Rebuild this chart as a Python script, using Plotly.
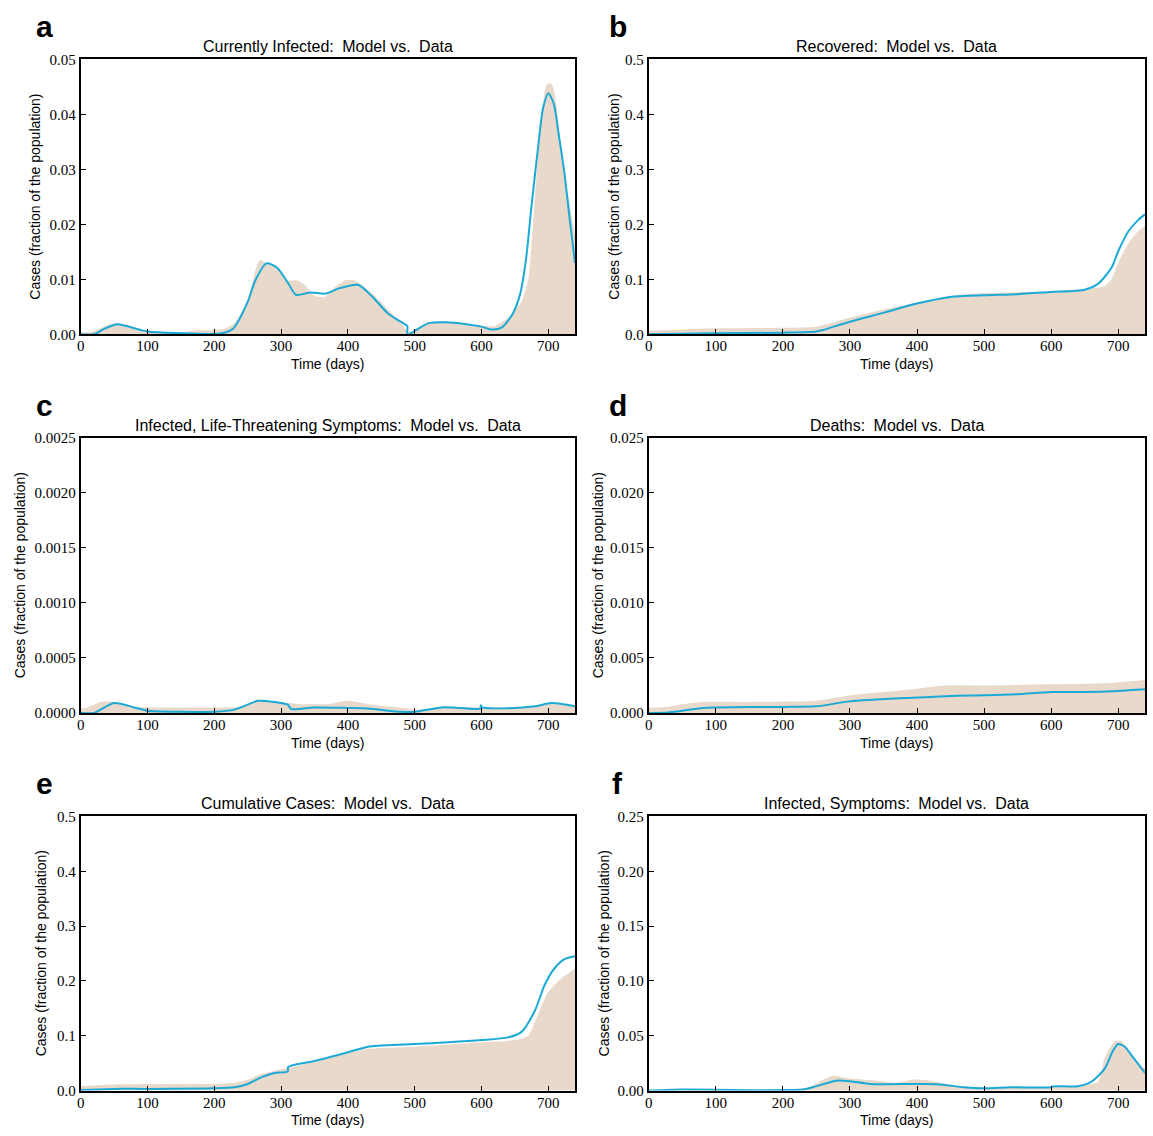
import plotly.graph_objects as go
from plotly.subplots import make_subplots

# ---------------- data ----------------
# a: Currently infected
a_data_t = [0, 20, 40, 55, 80, 100, 150, 170, 200, 215, 230, 250, 260, 268, 278, 290, 300, 310, 325, 335, 350, 365, 380, 395, 410, 420, 440, 460, 480, 490, 500, 520, 550, 580, 600, 620, 640, 660, 670, 680, 690, 698, 705, 712, 720, 730, 740]
a_data_v = [0.0003, 0.0006, 0.0017, 0.002, 0.0012, 0.0006, 0.0003, 0.0007, 0.0008, 0.001, 0.002, 0.006, 0.011, 0.0135, 0.013, 0.0125, 0.011, 0.0098, 0.0098, 0.009, 0.007, 0.0068, 0.0085, 0.0098, 0.0098, 0.009, 0.007, 0.0045, 0.002, 0.0005, 0.0008, 0.0022, 0.0023, 0.0018, 0.0015, 0.0015, 0.003, 0.006, 0.01, 0.025, 0.04, 0.0455, 0.0455, 0.042, 0.032, 0.025, 0.018]
a_model_t = [0, 20, 35, 55, 75, 100, 150, 200, 215, 228, 250, 261, 278, 294, 311, 322, 344, 366, 388, 415, 437, 460, 487, 489, 489.5, 520, 548, 575, 600, 614, 630, 647, 658, 667, 674, 685, 692, 700, 708, 716, 724, 732, 740]
a_model_v = [0.0, 0.0, 0.001, 0.00185, 0.0013, 0.0005, 0.0002, 0.0001, 0.0003, 0.001, 0.0059, 0.0097, 0.0129, 0.0121, 0.0092, 0.0072, 0.0076, 0.0074, 0.0084, 0.009, 0.0068, 0.0038, 0.0017, 0.0015, 0.0, 0.002, 0.0022, 0.0019, 0.0014, 0.0009, 0.0012, 0.0038, 0.0074, 0.014, 0.0223, 0.0343, 0.041, 0.0438, 0.042, 0.036, 0.0295, 0.021, 0.013]

# b: Recovered
b_data_t = [0, 50, 100, 200, 250, 300, 350, 400, 450, 500, 600, 650, 680, 690, 700, 715, 730, 740]
b_data_v = [0.007, 0.009, 0.011, 0.012, 0.014, 0.03, 0.045, 0.058, 0.07, 0.075, 0.078, 0.082, 0.088, 0.1, 0.13, 0.165, 0.188, 0.197]
b_model_t = [0, 100, 200, 250, 260, 300, 350, 400, 450, 500, 550, 600, 650, 670, 690, 700, 715, 730, 740]
b_model_v = [0.0, 0.002, 0.003, 0.005, 0.008, 0.023, 0.039, 0.056, 0.068, 0.071, 0.073, 0.077, 0.081, 0.092, 0.121, 0.151, 0.187, 0.208, 0.218]

# c: Infected, life-threatening symptoms
c_data_t = [0, 10, 30, 50, 70, 100, 200, 230, 250, 265, 290, 310, 330, 370, 400, 430, 460, 490, 500, 540, 600, 650, 700, 740]
c_data_v = [0.00004, 0.00005, 0.0001, 0.0001, 0.00006, 0.00005, 0.00005, 0.00005, 0.00008, 0.00011, 0.0001, 0.00009, 0.00008, 0.00008, 0.00011, 0.00008, 0.00006, 0.00004, 0.00003, 0.00005, 0.00005, 0.00005, 0.00008, 0.00007]
c_model_t = [0, 20, 50, 80, 100, 150, 200, 230, 250, 265, 290, 310, 315, 350, 400, 430, 480, 500, 540, 570, 598, 599, 601, 650, 680, 705, 740]
c_model_v = [0.0, 0.0, 0.00009, 0.00005, 0.00002, 0.00001, 0.00001, 0.00003, 0.000075, 0.00011, 0.0001, 0.000075, 0.000036, 0.00005, 0.000045, 0.00004, 0.00001, 0.00001, 0.00005, 0.000045, 0.00004, 0.00007, 0.00005, 0.000045, 0.00006, 0.00009, 0.00006]

# d: Deaths
d_data_t = [0, 20, 50, 80, 150, 250, 300, 350, 400, 440, 500, 600, 680, 740]
d_data_v = [0.0005, 0.0005, 0.0008, 0.001, 0.001, 0.0011, 0.0016, 0.0019, 0.0022, 0.0025, 0.0025, 0.0026, 0.0027, 0.003]
d_model_t = [0, 30, 80, 100, 200, 250, 300, 400, 450, 500, 550, 600, 650, 700, 740]
d_model_v = [0.0, 0.00005, 0.00045, 0.0005, 0.00055, 0.0006, 0.00105, 0.0014, 0.00155, 0.0016, 0.0017, 0.0019, 0.0019, 0.002, 0.00215]

# e: Cumulative cases
e_data_t = [0, 50, 100, 200, 230, 250, 270, 300, 310, 350, 400, 430, 500, 600, 650, 670, 685, 700, 720, 740]
e_data_v = [0.008, 0.011, 0.012, 0.012, 0.014, 0.02, 0.03, 0.039, 0.041, 0.052, 0.068, 0.076, 0.08, 0.088, 0.092, 0.1, 0.14, 0.18, 0.205, 0.222]
e_model_t = [0, 50, 100, 200, 230, 250, 270, 290, 310, 310.5, 350, 400, 430, 450, 500, 550, 600, 640, 660, 680, 695, 710, 725, 740]
e_model_v = [0.001, 0.003, 0.003, 0.004, 0.006, 0.012, 0.024, 0.032, 0.035, 0.043, 0.054, 0.07, 0.08, 0.082, 0.085, 0.088, 0.092, 0.097, 0.107, 0.146, 0.194, 0.224, 0.24, 0.245]

# f: Infected, symptoms
f_data_t = [0, 50, 100, 200, 240, 260, 275, 300, 330, 370, 395, 420, 450, 490, 550, 600, 650, 670, 680, 695, 705, 715, 730, 740]
f_data_v = [0.0, 0.001, 0.0008, 0.0008, 0.003, 0.01, 0.0135, 0.011, 0.0095, 0.007, 0.01, 0.009, 0.005, 0.002, 0.003, 0.003, 0.005, 0.008, 0.03, 0.045, 0.045, 0.036, 0.025, 0.02]
f_model_t = [0, 50, 100, 150, 200, 230, 250, 280, 300, 330, 400, 430, 470, 500, 540, 600, 602, 640, 660, 680, 692, 700, 710, 720, 740]
f_model_v = [0.0, 0.001, 0.0008, 0.0003, 0.0004, 0.001, 0.004, 0.009, 0.0085, 0.006, 0.006, 0.0058, 0.003, 0.002, 0.003, 0.003, 0.0037, 0.004, 0.008, 0.02, 0.036, 0.0424, 0.04, 0.032, 0.016]

SP = "\u2005"
titles = ["Currently Infected:" + SP + " Model vs." + SP + " Data",
          "Recovered:" + SP + " Model vs." + SP + " Data",
          "Infected, Life-Threatening Symptoms:" + SP + " Model vs." + SP + " Data",
          "Deaths:" + SP + " Model vs." + SP + " Data",
          "Cumulative Cases:" + SP + " Model vs." + SP + " Data",
          "Infected, Symptoms:" + SP + " Model vs." + SP + " Data"]
letters = ["a", "b", "c", "d", "e", "f"]
y_max = [0.05, 0.5, 0.0025, 0.025, 0.5, 0.25]
y_dtick = [0.01, 0.1, 0.0005, 0.005, 0.1, 0.05]
y_fmt = [".2f", ".1f", ".4f", ".3f", ".1f", ".2f"]
x_ticks = [0, 100, 200, 300, 400, 500, 600, 700]

panels = [(a_data_t, a_data_v, a_model_t, a_model_v),
          (b_data_t, b_data_v, b_model_t, b_model_v),
          (c_data_t, c_data_v, c_model_t, c_model_v),
          (d_data_t, d_data_v, d_model_t, d_model_v),
          (e_data_t, e_data_v, e_model_t, e_model_v),
          (f_data_t, f_data_v, f_model_t, f_model_v)]

W, H = 1153, 1136
col_x = [(77, 573), (647, 1145)]
row_y = [(52, 331), (436, 715), (820, 1098)]

FILL = "#E8D9CB"
LINE = "#1BA9D6"
SANS = "Liberation Sans, Arial, sans-serif"
SERIF = "Liberation Serif, 'Times New Roman', serif"

fig = make_subplots(rows=3, cols=2)
annotations = []
ylabel_x = [31, 612, 16, 596, 38, 603]

for i, (dt, dv, mt, mv) in enumerate(panels):
    r, c = i // 2 + 1, i % 2 + 1
    fig.add_trace(go.Scatter(x=dt, y=dv, mode="lines", line=dict(width=0, shape="spline", smoothing=0.6),
                             fill="tozeroy", fillcolor=FILL, hoverinfo="skip", showlegend=False), row=r, col=c)
    fig.add_trace(go.Scatter(x=mt, y=mv, mode="lines", line=dict(width=2, color=LINE, shape="spline", smoothing=0.7),
                             showlegend=False), row=r, col=c)
    x0, x1 = col_x[c - 1]
    yt, yb = row_y[r - 1]
    idx = "" if i == 0 else str(i + 1)
    fig.layout["xaxis" + idx].update(domain=[x0 / W, x1 / W], range=[0, 740], tickvals=x_ticks,
                                     ticks="inside", ticklen=5, tickcolor="black", showline=True,
                                     linecolor="black", linewidth=2, mirror=True, showgrid=False,
                                     zeroline=False, ticklabelstandoff=-3,
                                     tickfont=dict(family=SERIF, size=15, color="black"))
    fig.layout["yaxis" + idx].update(domain=[1 - yb / H, 1 - yt / H], range=[0, y_max[i]], dtick=y_dtick[i],
                                     tickformat=y_fmt[i], ticks="inside", ticklen=5, tickcolor="black",
                                     showline=True, linecolor="black", linewidth=2, mirror=True,
                                     showgrid=False, zeroline=False,
                                     tickfont=dict(family=SERIF, size=15, color="black"))
    xc = (x0 + x1) / 2
    annotations.append(dict(text=titles[i], x=xc / W, y=1 - (yt - 13) / H, xref="paper", yref="paper",
                            showarrow=False, xanchor="center", yanchor="middle",
                            font=dict(family=SANS, size=16, color="black")))
    annotations.append(dict(text="Time (days)", x=xc / W, y=1 - (yb + 30) / H, xref="paper", yref="paper",
                            showarrow=False, xanchor="center", yanchor="middle",
                            font=dict(family=SANS, size=14, color="black")))
    annotations.append(dict(text="Cases (fraction of the population)", x=ylabel_x[i] / W,
                            y=1 - (yt + yb) / 2 / H, xref="paper", yref="paper", textangle=-90,
                            showarrow=False, xanchor="center", yanchor="middle",
                            font=dict(family=SANS, size=14, color="black")))
    lx = 41 if c == 1 else 616
    annotations.append(dict(text="<b>" + letters[i] + "</b>", x=lx / W, y=1 - (yt - 33) / H, xref="paper",
                            yref="paper", showarrow=False, xanchor="center", yanchor="middle",
                            font=dict(family=SANS, size=30, color="black")))

fig.update_layout(width=W, height=H, margin=dict(l=0, r=0, t=0, b=0), plot_bgcolor="white",
                  paper_bgcolor="white", annotations=annotations, showlegend=False)
fig.write_html("out.html")
